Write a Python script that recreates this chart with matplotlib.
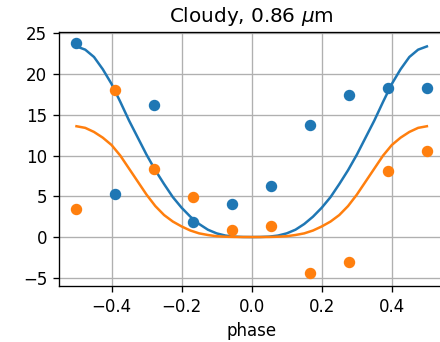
import matplotlib
matplotlib.use("Agg")
import matplotlib.pyplot as plt

# observed points (phase, flux)
phase_obs = [-0.5, -0.389, -0.278, -0.167, -0.056, 0.056, 0.167, 0.278, 0.389, 0.5]
blue_obs = [23.8, 5.25, 16.2, 1.9, 4.0, 6.3, 13.7, 17.4, 18.3, 18.3]
orange_obs = [3.4, 18.0, 8.3, 4.9, 0.85, 1.4, -4.4, -3.1, 8.05, 10.5]

# model curves (phase -0.5 .. 0.5, step 0.025)
phase_mod = [-0.5, -0.475, -0.45, -0.425, -0.4, -0.375, -0.35, -0.325, -0.3, -0.275,
             -0.25, -0.225, -0.2, -0.175, -0.15, -0.125, -0.1, -0.075, -0.05, -0.025,
             0.0,
             0.025, 0.05, 0.075, 0.1, 0.125, 0.15, 0.175, 0.2, 0.225, 0.25,
             0.275, 0.3, 0.325, 0.35, 0.375, 0.4, 0.425, 0.45, 0.475, 0.5]
blue_mod = [23.4, 23.0, 22.1, 20.6, 18.8, 16.6, 14.3, 12.2, 10.1, 8.2,
            6.5, 4.9, 3.6, 2.5, 1.6, 0.9, 0.45, 0.18, 0.05, 0.01,
            0.0,
            0.01, 0.05, 0.18, 0.45, 0.9, 1.6, 2.5, 3.6, 4.9, 6.5,
            8.2, 10.1, 12.2, 14.3, 16.6, 18.8, 20.6, 22.1, 23.0, 23.4]
orange_mod = [13.6, 13.4, 12.9, 12.2, 11.3, 10.0, 8.4, 6.8, 5.2, 3.8,
              2.7, 1.9, 1.3, 0.8, 0.45, 0.25, 0.1, 0.04, 0.01, 0.0,
              0.0,
              0.0, 0.01, 0.04, 0.1, 0.25, 0.45, 0.8, 1.3, 1.9, 2.7,
              3.8, 5.2, 6.8, 8.4, 10.0, 11.3, 12.2, 12.9, 13.4, 13.6]

plt.rcParams.update({
    'font.size': 12,
    'axes.linewidth': 0.96,
    'grid.linewidth': 0.96,
    'xtick.major.size': 4.2,
    'ytick.major.size': 4.2,
    'xtick.major.width': 0.96,
    'ytick.major.width': 0.96,
    'xtick.major.pad': 4.2,
    'ytick.major.pad': 4.2,
    'axes.labelpad': 4.8,
    'axes.titlepad': 7.2,
})

fig = plt.figure(figsize=(4.4, 3.42), dpi=100)
ax = fig.add_axes([0.134, 0.164, 0.876, 0.742])

ax.scatter(phase_obs, blue_obs, color='C0', s=52, zorder=3)
ax.scatter(phase_obs, orange_obs, color='C1', s=52, zorder=3)
ax.plot(phase_mod, blue_mod, color='C0', lw=1.8)
ax.plot(phase_mod, orange_mod, color='C1', lw=1.8)

ax.set_xlim(-0.55, 0.55)
ax.set_ylim(-6.0, 25.15)
ax.set_xticks([-0.4, -0.2, 0.0, 0.2, 0.4])
ax.set_yticks([-5, 0, 5, 10, 15, 20, 25])
ax.grid(True)
ax.set_xlabel('phase')
ax.set_title(r'Cloudy, 0.86 $\mu$m')

fig.savefig('out.png', dpi=100)
